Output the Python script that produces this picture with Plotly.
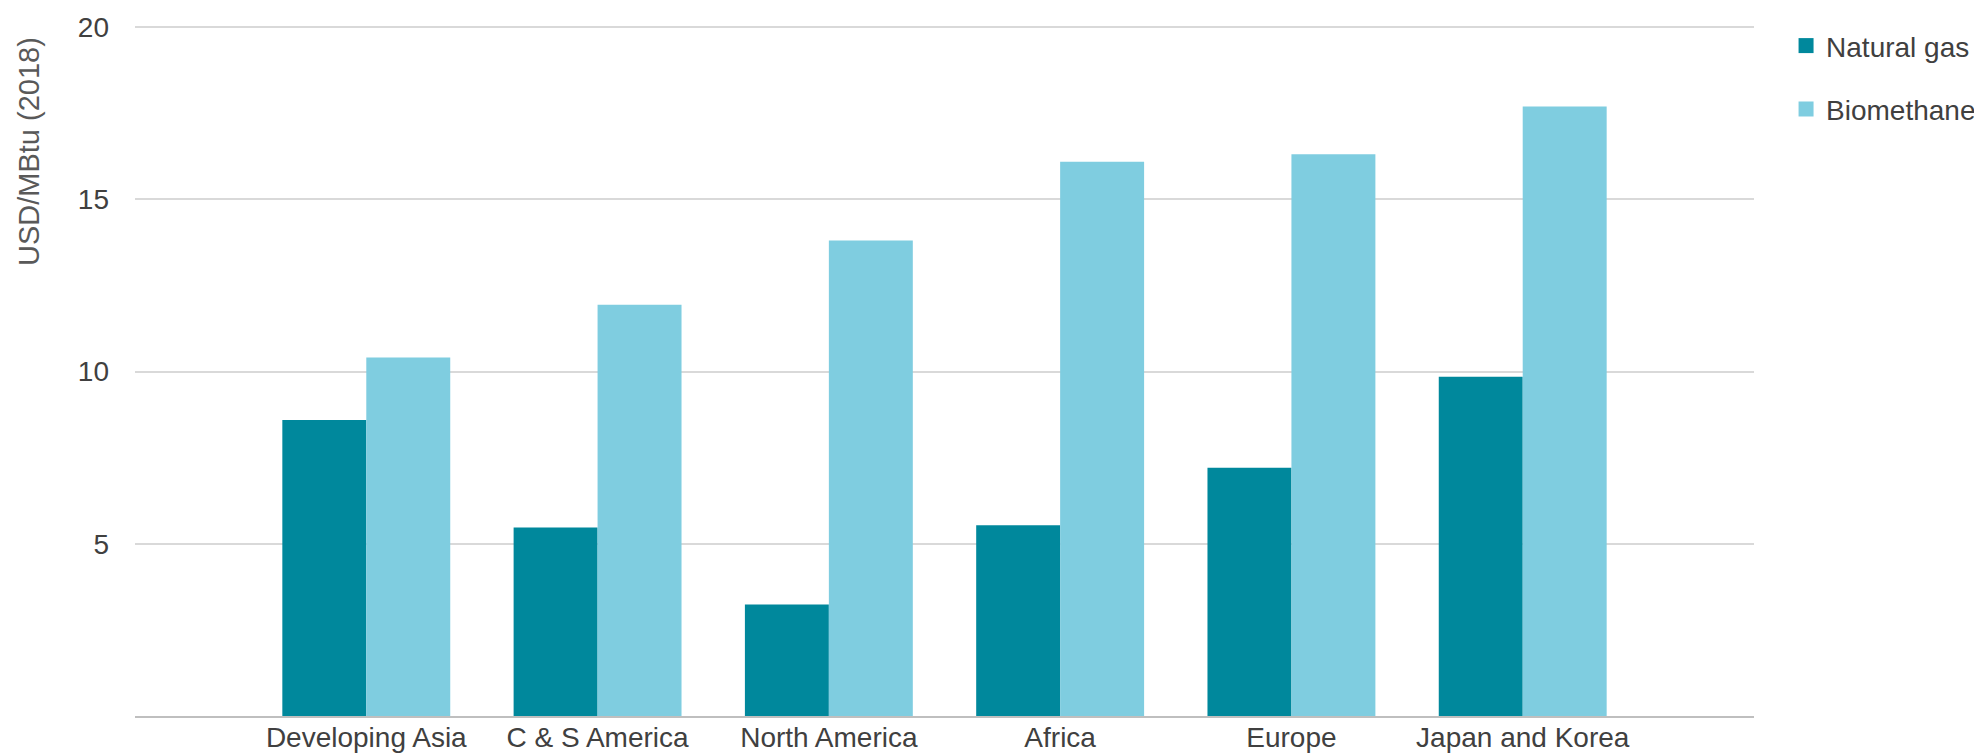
import plotly.graph_objects as go

categories = ["Developing Asia", "C & S America", "North America", "Africa", "Europe", "Japan and Korea"]
natural_gas = [8.59, 5.47, 3.24, 5.54, 7.21, 9.85]
biomethane = [10.41, 11.94, 13.80, 16.09, 16.31, 17.69]
y_ticks = [5, 10, 15, 20]
series_names = ["Natural gas", "Biomethane"]
series_colors = ["#00889C", "#7FCDE0"]

FONT = "Liberation Sans, Arial, sans-serif"
TXT = "#404040"

fig = go.Figure()
for name, vals, col in zip(series_names, [natural_gas, biomethane], series_colors):
    fig.add_trace(go.Bar(x=categories, y=vals, name=name,
                         marker=dict(color=col, line=dict(width=0)),
                         showlegend=False))
# legend entries (square swatches)
for i, (name, col) in enumerate(zip(series_names, series_colors)):
    fig.add_trace(go.Scatter(x=[None], y=[None], mode="markers", name=name,
                             marker=dict(symbol="square", size=15, color=col),
                             legendgroup=f"g{i}", showlegend=True))

# page body has an 8px margin, so margins are offset to compensate
fig.update_layout(
    width=1982, height=746,
    margin=dict(l=127, r=236, t=18, b=38, pad=0, autoexpand=False),
    paper_bgcolor="white", plot_bgcolor="white",
    barmode="group", bargap=0.274, bargroupgap=0,
    font=dict(family=FONT, size=28, color=TXT),
    showlegend=True,
    legend=dict(x=1.0198, xanchor="left", y=1.0074, yanchor="top",
                traceorder="grouped", tracegroupgap=24,
                font=dict(size=28, color=TXT),
                bgcolor="rgba(0,0,0,0)", borderwidth=0),
    xaxis=dict(type="category", range=[-1, 6], showgrid=False,
               showline=True, linecolor="#BFBFBF", linewidth=2,
               ticks="", ticklen=0, tickfont=dict(size=28, color=TXT),
               ticklabelstandoff=-5, automargin=False, fixedrange=True),
    yaxis=dict(range=[0, 20.03], tickvals=y_ticks, ticktext=[str(v) for v in y_ticks],
               showgrid=True, gridcolor="#D9D9D9", gridwidth=2,
               zeroline=False, showline=False, ticks="", ticklen=0,
               tickfont=dict(size=28, color=TXT),
               ticklabelstandoff=25, automargin=False, fixedrange=True),
    annotations=[dict(text="USD/MBtu (2018)", textangle=-90,
                      xref="paper", yref="paper", x=-0.0654, y=0.8175,
                      xanchor="center", yanchor="middle", showarrow=False,
                      font=dict(size=29, color="#595959", family=FONT))],
)

fig.write_html("out.html")
